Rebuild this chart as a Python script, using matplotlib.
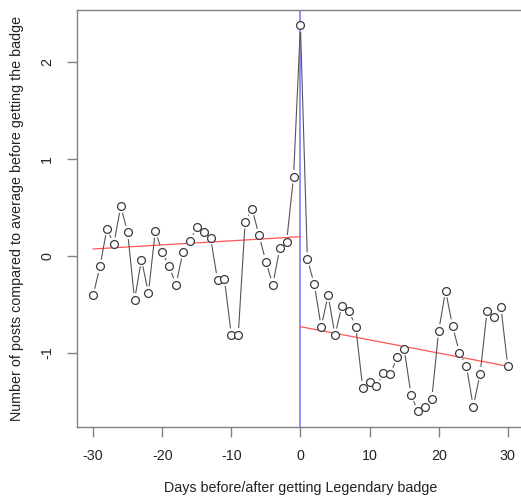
import numpy as np
import matplotlib
matplotlib.use("Agg")
import matplotlib.pyplot as plt
from matplotlib.transforms import blended_transform_factory

days = list(range(-30, 31))
values = [-0.41, -0.11, 0.28, 0.12, 0.51, 0.24, -0.455, -0.04, -0.385, 0.255,
          0.04, -0.11, -0.30, 0.04, 0.155, 0.295, 0.24, 0.185, -0.25, -0.24,
          -0.82, -0.815, 0.35, 0.485, 0.21, -0.06, -0.30, 0.075, 0.145, 0.815,
          2.375,
          -0.035, -0.295, -0.735, -0.405, -0.82, -0.515, -0.57, -0.73, -1.36, -1.30,
          -1.345, -1.21, -1.22, -1.045, -0.957, -1.435, -1.605, -1.565, -1.475, -0.775,
          -0.36, -0.725, -1.0, -1.135, -1.555, -1.215, -0.57, -0.635, -0.53, -1.14]
# trend lines (endpoints)
trend_before_days = [-30, 0]
trend_before_vals = [0.069, 0.196]
trend_after_days = [0, 30]
trend_after_vals = [-0.732, -1.14]
xticks = [-30, -20, -10, 0, 10, 20, 30]
yticks = [-1, 0, 1, 2]
xlabel = "Days before/after getting Legendary badge"
ylabel = "Number of posts compared to average before getting the badge"

plt.rcParams['font.family'] = ['Liberation Sans', 'DejaVu Sans']
plt.rcParams['axes.unicode_minus'] = False
W, H = 521, 498
fig = plt.figure(figsize=(W/100, H/100), dpi=100)
ax = fig.add_axes([76.5/W, 1-426.5/H, (524.4-76.5)/W, (426.5-10.5)/H])
ax.set_xlim(-32.4, 32.4)
ax.set_ylim(-1.761, 2.528)

frame_col = '#808080'
for s in ['left', 'top', 'bottom']:
    ax.spines[s].set_color(frame_col)
    ax.spines[s].set_linewidth(1.0)
ax.spines['right'].set_visible(False)

fs = 10.3
ax.set_xticks(xticks)
ax.set_yticks(yticks)
ax.set_yticklabels([str(v) for v in yticks], rotation=90, va='center')
ax.tick_params(axis='both', direction='out', length=7, width=1, color=frame_col,
               labelsize=fs, labelcolor='#222222', pad=9)
ax.set_xlabel(xlabel, fontsize=fs, color='#222222')
ax.set_ylabel(ylabel, fontsize=fs, color='#222222')
ax.xaxis.label.set_va('center')
ax.yaxis.label.set_va('center')
ax.xaxis.set_label_coords(0.5, (H - 488) / H,
                          transform=blended_transform_factory(ax.transAxes, fig.transFigure))
ax.yaxis.set_label_coords(17 / W, 0.5,
                          transform=blended_transform_factory(fig.transFigure, ax.transAxes))

x = np.array(days, dtype=float)
y = np.array(values, dtype=float)

ax.plot(trend_before_days, trend_before_vals, color='#ff5555', lw=0.9, zorder=2)
ax.plot(trend_after_days, trend_after_vals, color='#ff5555', lw=0.9, zorder=2)
ax.axvline(0, color='#8888ff', lw=1.3, zorder=1)

# type="b" lines with gaps around the points
fig.canvas.draw()
pts = ax.transData.transform(np.column_stack([x, y]))
gap = 6.8  # pixels from point centre
inv = ax.transData.inverted()
for i in range(len(pts) - 1):
    p0, p1 = pts[i], pts[i + 1]
    d = p1 - p0
    L = np.hypot(*d)
    if L <= 2 * gap:
        continue
    u = d / L
    da = inv.transform([p0 + u * gap, p1 - u * gap])
    ax.plot(da[:, 0], da[:, 1], color='#555555', lw=0.8, zorder=3, solid_capstyle='butt')

ax.scatter(x, y, s=32, facecolors='white', edgecolors='#3a3a3a', linewidths=0.9, zorder=4)

fig.savefig("out.png", dpi=100)
